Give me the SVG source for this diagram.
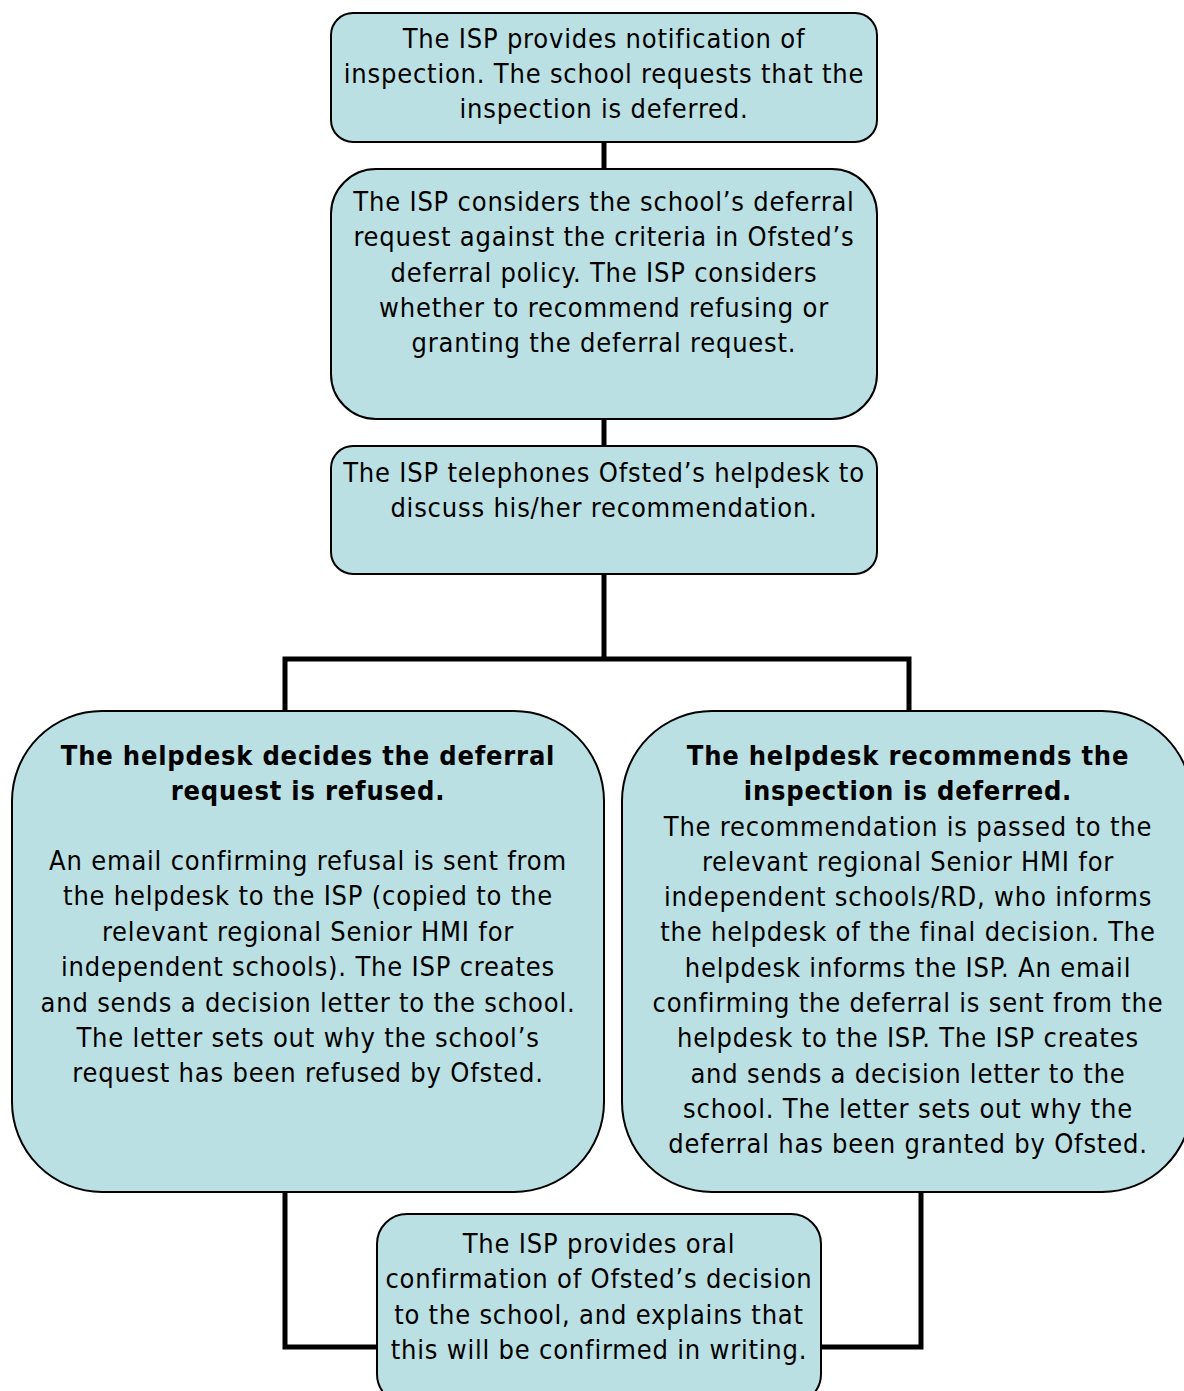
<svg xmlns="http://www.w3.org/2000/svg" width="1184" height="1391" viewBox="0 0 1184 1391">
<style>
.box{fill:#BBE0E3;stroke:#000;stroke-width:2}
.conn{fill:none;stroke:#000;stroke-width:5}
text{font-family:"DejaVu Sans Condensed","DejaVu Sans",sans-serif;font-stretch:condensed;font-size:27px;letter-spacing:0.8px;fill:#000;text-anchor:middle}
.b{font-weight:bold}
</style>
<rect width="1184" height="1391" fill="#fff"/>
<g id="connectors">
<path class="conn" d="M604 142V169M604 419V446M604 574V659M285 711V659H909V711"/>
<path class="conn" d="M285 1192V1347H377M921 1192V1347H821"/>
</g>
<g id="n1">
<rect class="box" x="331" y="13" width="546" height="129" rx="22"/>
<text x="604" y="48">The ISP provides notification of</text>
<text x="604" y="83">inspection. The school requests that the</text>
<text x="604" y="118">inspection is deferred.</text>
</g>
<g id="n2">
<rect class="box" x="331" y="169" width="546" height="250" rx="45"/>
<text x="604" y="211">The ISP considers the school’s deferral</text>
<text x="604" y="246">request against the criteria in Ofsted’s</text>
<text x="604" y="282">deferral policy. The ISP considers</text>
<text x="604" y="317">whether to recommend refusing or</text>
<text x="604" y="352">granting the deferral request.</text>
</g>
<g id="n3">
<rect class="box" x="331" y="446" width="546" height="128" rx="22"/>
<text x="604" y="482">The ISP telephones Ofsted’s helpdesk to</text>
<text x="604" y="517">discuss his/her recommendation.</text>
</g>
<g id="n4">
<rect class="box" x="12" y="711" width="592" height="481" rx="90"/>
<text class="b" x="308" y="765">The helpdesk decides the deferral</text>
<text class="b" x="308" y="800">request is refused.</text>
<text x="308" y="870">An email confirming refusal is sent from</text>
<text x="308" y="905">the helpdesk to the ISP (copied to the</text>
<text x="308" y="941">relevant regional Senior HMI for</text>
<text x="308" y="976">independent schools). The ISP creates</text>
<text x="308" y="1012">and sends a decision letter to the school.</text>
<text x="308" y="1047">The letter sets out why the school’s</text>
<text x="308" y="1082">request has been refused by Ofsted.</text>
</g>
<g id="n5">
<rect class="box" x="622" y="711" width="570" height="481" rx="90"/>
<text class="b" x="908" y="765">The helpdesk recommends the</text>
<text class="b" x="908" y="800">inspection is deferred.</text>
<text x="908" y="836">The recommendation is passed to the</text>
<text x="908" y="871">relevant regional Senior HMI for</text>
<text x="908" y="906">independent schools/RD, who informs</text>
<text x="908" y="941">the helpdesk of the final decision. The</text>
<text x="908" y="977">helpdesk informs the ISP. An email</text>
<text x="908" y="1012">confirming the deferral is sent from the</text>
<text x="908" y="1047">helpdesk to the ISP. The ISP creates</text>
<text x="908" y="1083">and sends a decision letter to the</text>
<text x="908" y="1118">school. The letter sets out why the</text>
<text x="908" y="1153">deferral has been granted by Ofsted.</text>
</g>
<g id="n6">
<rect class="box" x="377" y="1214" width="444" height="190" rx="30"/>
<text x="599" y="1253">The ISP provides oral</text>
<text x="599" y="1288">confirmation of Ofsted’s decision</text>
<text x="599" y="1324">to the school, and explains that</text>
<text x="599" y="1359">this will be confirmed in writing.</text>
</g>
</svg>
